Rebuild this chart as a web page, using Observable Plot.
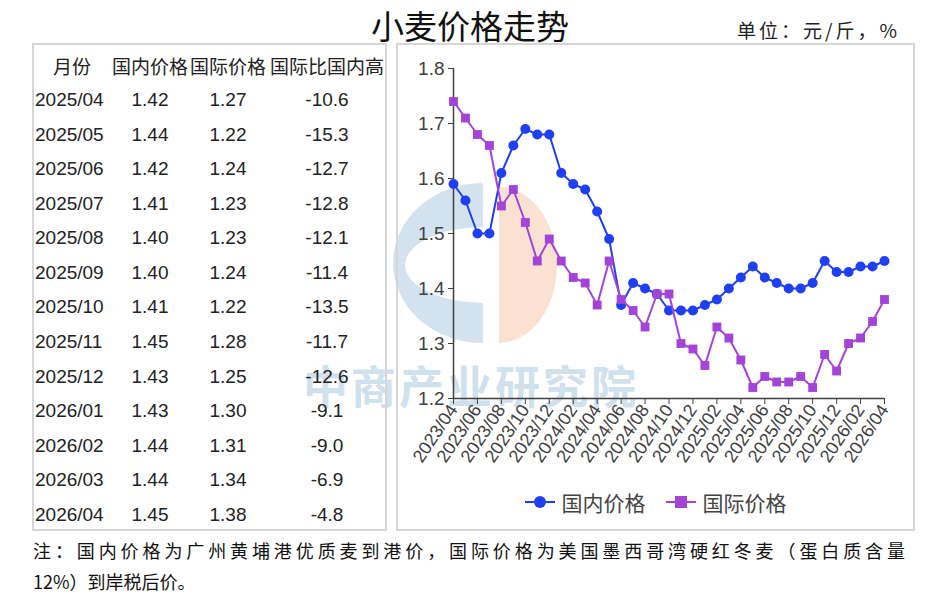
<!DOCTYPE html>
<html><head><meta charset="utf-8">
<script src="https://cdn.jsdelivr.net/npm/d3@7"></script>
<script src="https://cdn.jsdelivr.net/npm/@observablehq/plot@0.6"></script>
<style>
body{margin:0;background:#fff;}
#root{position:relative;width:950px;height:600px;overflow:hidden;font-family:"Noto Sans CJK SC","Liberation Sans",sans-serif;color:#222;}
.abs{position:absolute;}
.panel{position:absolute;border:2px solid #d6d6d6;box-sizing:border-box;}
.num{font-family:"Liberation Sans",sans-serif;font-size:19px;}
.cn{font-family:"Noto Sans CJK SC",sans-serif;font-size:19px;}
.cell{position:absolute;white-space:nowrap;line-height:24px;height:24px;}
</style></head><body><div id="root"></div><script>
// ---- data ----
const months = ["2023/04","2023/05","2023/06","2023/07","2023/08","2023/09","2023/10","2023/11","2023/12",
"2024/01","2024/02","2024/03","2024/04","2024/05","2024/06","2024/07","2024/08","2024/09","2024/10","2024/11","2024/12",
"2025/01","2025/02","2025/03","2025/04","2025/05","2025/06","2025/07","2025/08","2025/09","2025/10","2025/11","2025/12",
"2026/01","2026/02","2026/03","2026/04"];
const domestic = [1.59,1.56,1.50,1.50,1.61,1.66,1.69,1.68,1.68,1.61,1.59,1.58,1.54,1.49,1.37,1.41,1.40,1.39,1.36,1.36,1.36,
1.37,1.38,1.40,1.42,1.44,1.42,1.41,1.40,1.40,1.41,1.45,1.43,1.43,1.44,1.44,1.45];
const international = [1.74,1.71,1.68,1.66,1.55,1.58,1.52,1.45,1.49,1.45,1.42,1.41,1.37,1.45,1.38,1.36,1.33,1.39,1.39,1.30,1.29,
1.26,1.33,1.31,1.27,1.22,1.24,1.23,1.23,1.24,1.22,1.28,1.25,1.30,1.31,1.34,1.38];
const xTicks = ["2023/04","2023/06","2023/08","2023/10","2023/12","2024/02","2024/04","2024/06","2024/08","2024/10","2024/12",
"2025/02","2025/04","2025/06","2025/08","2025/10","2025/12","2026/02","2026/04"];
const yTicks = [1.2,1.3,1.4,1.5,1.6,1.7,1.8];
const seriesNames = ["国内价格","国际价格"];
const seriesColors = ["#1f3ff2","#a443d8"];
const tableHeaders = ["月份","国内价格","国际价格","国际比国内高"];
const tableMonths = ["2025/04","2025/05","2025/06","2025/07","2025/08","2025/09","2025/10","2025/11","2025/12","2026/01","2026/02","2026/03","2026/04"];
const tableDomestic = ["1.42","1.44","1.42","1.41","1.40","1.40","1.41","1.45","1.43","1.43","1.44","1.44","1.45"];
const tableIntl = ["1.27","1.22","1.24","1.23","1.23","1.24","1.22","1.28","1.25","1.30","1.31","1.34","1.38"];
const tableDiff = ["-10.6","-15.3","-12.7","-12.8","-12.1","-11.4","-13.5","-11.7","-12.6","-9.1","-9.0","-6.9","-4.8"];
const title = "小麦价格走势";
const unit = "单位：元/斤，%";
const note1 = "注：国内价格为广州黄埔港优质麦到港价，国际价格为美国墨西哥湾硬红冬麦（蛋白质含量";
const note2 = "12%）到岸税后价。";
const watermark = "中商产业研究院";

const root = document.getElementById("root");
function el(tag, cls, style, text){const e=document.createElement(tag); if(cls)e.className=cls; if(style)e.setAttribute("style",style); if(text!=null)e.textContent=text; return e;}

// watermark (behind)
const wm = document.createElementNS("http://www.w3.org/2000/svg","svg");
wm.setAttribute("width",950); wm.setAttribute("height",600);
wm.setAttribute("style","position:absolute;left:0;top:0;");
wm.innerHTML = `<path d="M483 183 A90 80 0 0 0 483 343 L483 303 A78 38 0 0 1 483 227 Z" fill="#d2e3ef"/>
<path d="M499 187 A58 78 0 0 1 499 343 Z" fill="#fbe1d2"/>
<text x="303" y="404" font-size="45" font-weight="700" letter-spacing="3" fill="#d0e1ee" font-family="Noto Sans CJK SC">${watermark}</text>`;
root.appendChild(wm);

// panels
root.appendChild(el("div","panel","left:32px;top:43px;width:355px;height:488px;"));
root.appendChild(el("div","panel","left:396px;top:43px;width:519px;height:488px;"));

// title + unit
root.appendChild(el("div","abs","left:0;width:940px;top:3px;text-align:center;font-size:33px;line-height:44px;color:#111;",title));
root.appendChild(el("div","abs","right:50px;top:17px;font-size:19px;line-height:26px;letter-spacing:3px;color:#222;",unit));

// table
const headerCenters = [72,150,228,327];
const rowY0 = 100, rowStep = 34.58;
tableHeaders.forEach((h,i)=>{
  root.appendChild(el("div","cell cn",`left:${headerCenters[i]-70}px;width:140px;text-align:center;top:${66-12}px;`,h));
});
tableMonths.forEach((m,r)=>{
  const y = rowY0 + r*rowStep - 12;
  root.appendChild(el("div","cell num",`left:35px;top:${y}px;`,m));
  root.appendChild(el("div","cell num",`left:${150-40}px;width:80px;text-align:center;top:${y}px;`,tableDomestic[r]));
  root.appendChild(el("div","cell num",`left:${228-40}px;width:80px;text-align:center;top:${y}px;`,tableIntl[r]));
  root.appendChild(el("div","cell num",`left:${327-40}px;width:80px;text-align:center;top:${y}px;`,tableDiff[r]));
});

// chart
const data = months.map((m,i)=>({month:m, dom:domestic[i], intl:international[i]}));
const chart = Plot.plot({
  width: 517, height: 440,
  marginLeft: 56, marginRight: 30, marginTop: 24, marginBottom: 86,
  style: {background:"transparent", fontFamily:"Liberation Sans, sans-serif", color:"#404040", overflow:"visible"},
  x: {type:"point", domain: months, padding: 0, label: null},
  y: {domain:[1.2,1.8], label: null},
  marks: [
    Plot.ruleY([1.2], {stroke:"#404040", strokeWidth:1.5}),
    Plot.ruleX([months[0]], {stroke:"#404040", strokeWidth:1.5}),
    Plot.axisY({ticks: yTicks, tickFormat: d=>d.toFixed(1), fontSize: 19, tickSize: 5, tickPadding: 4, stroke:"#404040", fill:"#404040"}),
    Plot.axisX({ticks: xTicks, tickRotate: -56, fontSize: 18, tickSize: 6, tickPadding: 2, stroke:"#404040", fill:"#404040"}),
    Plot.line(data, {x:"month", y:"dom", stroke: seriesColors[0], strokeWidth: 2}),
    Plot.dot(data, {x:"month", y:"dom", fill: seriesColors[0], r: 5, stroke:"none"}),
    Plot.line(data, {x:"month", y:"intl", stroke: seriesColors[1], strokeWidth: 2}),
    Plot.dot(data, {x:"month", y:"intl", symbol:"square", fill: seriesColors[1], r: 5, stroke:"none"})
  ]
});
chart.style.position = "absolute"; chart.style.left = "397px"; chart.style.top = "44px";
root.appendChild(chart);

// legend
const leg = el("div","abs","left:397px;width:517px;top:488px;height:28px;display:flex;justify-content:center;align-items:center;gap:20px;");
seriesNames.forEach((n,i)=>{
  const item = el("div",null,"display:flex;align-items:center;gap:7px;");
  const sw = document.createElementNS("http://www.w3.org/2000/svg","svg");
  sw.setAttribute("width",30); sw.setAttribute("height",14);
  sw.innerHTML = `<line x1="0" x2="30" y1="7" y2="7" stroke="${seriesColors[i]}" stroke-width="2"/>` +
    (i===0 ? `<circle cx="15" cy="7" r="6" fill="${seriesColors[i]}"/>` : `<rect x="9" y="1" width="12" height="12" fill="${seriesColors[i]}"/>`);
  item.appendChild(sw);
  item.appendChild(el("span",null,"font-size:21px;color:#444;line-height:28px;",n));
  leg.appendChild(item);
});
root.appendChild(leg);

// footnote
root.appendChild(el("div","abs","left:33px;width:872px;top:537px;font-size:18px;line-height:26px;text-align:justify;text-align-last:justify;color:#111;",note1));
root.appendChild(el("div","abs","left:33px;top:568px;font-size:18px;line-height:26px;color:#111;",note2));
</script></body></html>
